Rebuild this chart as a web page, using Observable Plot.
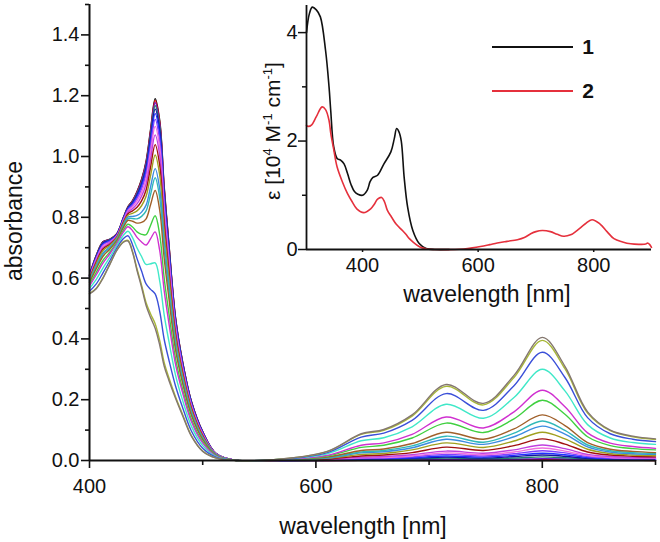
<!DOCTYPE html>
<html><head><meta charset="utf-8">
<script src="https://cdn.jsdelivr.net/npm/d3@7"></script>
<script src="https://cdn.jsdelivr.net/npm/@observablehq/plot@0.6"></script>
<style>
html,body{margin:0;padding:0;background:#fff;}
#wrap{position:relative;width:660px;height:542px;}
#wrap svg{position:absolute;left:0;top:0;}
</style></head><body><div id="wrap"></div>
<script>
// ---- main titration spectra (absorbance vs wavelength) ----
const wavelengths = [400,406,412,418,424,430,434,438,442,446,450,454,458,462,466,470,476,482,490,500,512,530,
  570,610,640,660,685,715,748,775,800,820,840,860,880,900];

const sBlack = [0.610,0.675,0.720,0.728,0.745,0.800,0.835,0.855,0.885,0.925,0.985,1.090,1.190,1.120,0.900,0.720,0.470,0.330,0.195,0.095,0.022,0,
  0,0,0,0,0,0,0,0,0,0,0,0,0,0];
const sRed = [0.610,0.674,0.719,0.727,0.745,0.799,0.834,0.854,0.883,0.922,0.981,1.085,1.184,1.114,0.895,0.716,0.468,0.329,0.194,0.094,0.022,0,
  0,0,0.001,0.001,0.001,0.002,0.001,0.002,0.003,0.002,0.001,0.001,0.001,0];
const sPurple = [0.609,0.673,0.718,0.727,0.744,0.799,0.833,0.852,0.881,0.919,0.977,1.079,1.177,1.107,0.890,0.712,0.465,0.327,0.193,0.094,0.022,0,
  0,0,0.001,0.002,0.002,0.004,0.003,0.004,0.006,0.005,0.002,0.002,0.001,0.001];
const sTealGreen = [0.608,0.672,0.716,0.726,0.743,0.798,0.832,0.850,0.877,0.914,0.971,1.071,1.167,1.098,0.882,0.706,0.462,0.325,0.192,0.093,0.022,0,
  0,0.001,0.003,0.003,0.005,0.008,0.006,0.008,0.012,0.009,0.005,0.003,0.002,0.002];
const sNavy = [0.607,0.670,0.715,0.724,0.743,0.796,0.830,0.847,0.873,0.909,0.964,1.062,1.156,1.087,0.873,0.700,0.458,0.322,0.190,0.092,0.021,0,
  0,0.001,0.004,0.005,0.007,0.011,0.008,0.013,0.018,0.014,0.007,0.005,0.004,0.003];
const sBlue2 = [0.606,0.668,0.712,0.723,0.741,0.795,0.828,0.844,0.868,0.902,0.954,1.050,1.141,1.072,0.862,0.690,0.453,0.318,0.188,0.091,0.021,0,
  0,0.002,0.005,0.006,0.009,0.015,0.011,0.017,0.024,0.019,0.010,0.006,0.005,0.004];
const sViolet = [0.604,0.665,0.709,0.721,0.740,0.793,0.825,0.840,0.862,0.893,0.942,1.034,1.122,1.053,0.847,0.679,0.446,0.314,0.185,0.089,0.021,0,
  0,0.002,0.007,0.008,0.012,0.020,0.015,0.022,0.032,0.025,0.013,0.008,0.006,0.006];
const sPink = [0.603,0.662,0.706,0.718,0.738,0.790,0.821,0.835,0.854,0.882,0.928,1.016,1.099,1.031,0.829,0.665,0.438,0.308,0.181,0.087,0.020,0,
  0.001,0.003,0.009,0.010,0.015,0.025,0.019,0.028,0.041,0.031,0.016,0.010,0.008,0.007];
const sOrchid = [0.600,0.658,0.701,0.715,0.736,0.787,0.817,0.828,0.844,0.869,0.910,0.993,1.071,1.004,0.807,0.649,0.428,0.302,0.177,0.085,0.020,0,
  0.001,0.004,0.011,0.013,0.019,0.031,0.024,0.035,0.051,0.039,0.020,0.013,0.010,0.009];
const sWine = [0.598,0.653,0.696,0.711,0.734,0.784,0.812,0.821,0.833,0.854,0.890,0.966,1.039,0.972,0.782,0.629,0.417,0.294,0.172,0.082,0.019,0,
  0.001,0.005,0.015,0.018,0.026,0.044,0.033,0.049,0.071,0.054,0.028,0.018,0.014,0.012];
const sOlive = [0.595,0.648,0.691,0.708,0.732,0.780,0.807,0.813,0.821,0.838,0.869,0.938,1.005,0.939,0.755,0.609,0.405,0.286,0.167,0.079,0.019,0,
  0.001,0.007,0.020,0.023,0.035,0.058,0.043,0.064,0.093,0.071,0.037,0.023,0.018,0.016];
const sSteel = [0.591,0.641,0.683,0.703,0.728,0.775,0.801,0.803,0.806,0.817,0.840,0.901,0.960,0.894,0.720,0.581,0.389,0.275,0.160,0.075,0.018,0,
  0.001,0.008,0.025,0.029,0.042,0.070,0.053,0.078,0.113,0.087,0.045,0.028,0.022,0.020];
const sTeal = [0.589,0.637,0.679,0.699,0.726,0.772,0.796,0.796,0.795,0.803,0.821,0.876,0.930,0.865,0.696,0.563,0.379,0.268,0.155,0.073,0.017,0,
  0.002,0.010,0.028,0.033,0.048,0.080,0.060,0.090,0.130,0.099,0.051,0.032,0.026,0.023];
const sBrown = [0.585,0.631,0.672,0.695,0.723,0.767,0.790,0.787,0.781,0.783,0.795,0.842,0.888,0.824,0.664,0.538,0.364,0.258,0.149,0.069,0.016,0,
  0.002,0.011,0.033,0.038,0.056,0.093,0.070,0.104,0.150,0.115,0.059,0.037,0.030,0.026];
const sGreen = [0.578,0.619,0.659,0.686,0.717,0.758,0.777,0.768,0.752,0.744,0.743,0.774,0.805,0.743,0.599,0.488,0.335,0.238,0.136,0.062,0.015,0,
  0.002,0.015,0.043,0.050,0.074,0.123,0.092,0.137,0.198,0.152,0.078,0.049,0.039,0.035];
const sMagenta = [0.574,0.611,0.650,0.680,0.713,0.752,0.769,0.756,0.734,0.719,0.709,0.730,0.752,0.691,0.558,0.456,0.316,0.226,0.128,0.057,0.014,0,
  0.003,0.017,0.050,0.058,0.086,0.143,0.107,0.160,0.231,0.177,0.091,0.057,0.046,0.040];
const sAqua = [0.566,0.596,0.634,0.669,0.706,0.741,0.754,0.733,0.699,0.671,0.645,0.647,0.650,0.591,0.478,0.395,0.281,0.201,0.113,0.049,0.012,0,
  0.004,0.022,0.065,0.075,0.111,0.185,0.139,0.207,0.300,0.229,0.118,0.074,0.059,0.053];
const sBlue = [0.557,0.581,0.618,0.657,0.698,0.730,0.739,0.710,0.664,0.623,0.581,0.563,0.548,0.491,0.398,0.333,0.245,0.177,0.097,0.040,0.010,0,
  0.004,0.026,0.077,0.090,0.132,0.220,0.165,0.246,0.356,0.273,0.141,0.088,0.070,0.062];
const sYellow = [0.549,0.567,0.602,0.647,0.691,0.720,0.724,0.688,0.630,0.577,0.519,0.482,0.450,0.395,0.322,0.274,0.210,0.154,0.082,0.031,0.008,0,
  0.005,0.029,0.086,0.099,0.146,0.244,0.183,0.273,0.395,0.302,0.156,0.098,0.078,0.069];
const sGray = [0.548,0.565,0.600,0.645,0.690,0.718,0.722,0.685,0.625,0.570,0.510,0.470,0.435,0.380,0.310,0.265,0.205,0.150,0.080,0.030,0.008,0,
  0.005,0.030,0.088,0.102,0.150,0.250,0.188,0.280,0.405,0.310,0.160,0.100,0.080,0.071];

const spectra = [sBlack,sRed,sPurple,sTealGreen,sNavy,sBlue2,sViolet,sPink,sOrchid,sWine,sOlive,sSteel,sTeal,sBrown,sGreen,sMagenta,sAqua,sBlue,sYellow,sGray];
const spectrumColors = ["#151515","#e01010","#7010c8","#208070","#1414a0","#2030ff","#8040ff","#f070e0","#c040e0","#a01010","#a0a020","#3c8ce0","#30b8b8","#a0602a","#40d040","#d030d0","#40e8c8","#3a4fd8","#a8b838","#84776f"];

const absTicks = [0,0.2,0.4,0.6,0.8,1.0,1.2,1.4];
const absMinor = [0.1,0.3,0.5,0.7,0.9,1.1,1.3,1.5];
const wlTicks = [400,600,800];
const wlMinor = [500,700,900];

// ---- inset: molar absorptivity of 1 and 2 ----
const wl1 = [303,308,313,320,327,336,342,345,350,356,362,368,374,380,386,392,400,408,413,418,426,437,449,455,459,463,467,472,478,487,498,510,525,550];
const eps1 = [4.00,4.35,4.47,4.42,4.29,3.67,3.00,2.55,1.90,1.68,1.65,1.58,1.40,1.20,1.07,1.02,1.00,1.09,1.25,1.33,1.37,1.58,1.80,2.05,2.23,2.17,2.00,1.33,0.78,0.35,0.11,0.02,0.0,0.0];
const wl2 = [303,306,312,320,330,336,342,345,350,356,365,374,382,390,402,414,420,426,433,438,443,450,458,469,475,481,488,495,503,512,530,560,575,590,604,620,633,650,668,680,691,700,711,725,737,748,760,771,785,797,811,823,835,850,864,878,890,893,897,900];
const eps2 = [2.29,2.27,2.30,2.45,2.63,2.58,2.38,2.14,1.85,1.52,1.25,1.03,0.88,0.75,0.68,0.75,0.83,0.93,0.96,0.88,0.72,0.60,0.47,0.35,0.28,0.20,0.13,0.074,0.03,0.01,0.0,0.0,0.01,0.03,0.055,0.09,0.12,0.15,0.18,0.22,0.29,0.33,0.35,0.33,0.28,0.245,0.27,0.35,0.47,0.55,0.47,0.33,0.20,0.14,0.105,0.095,0.10,0.12,0.09,0.04];
const epsTicks = [0,2,4];
const epsMinor = [1,3];
const insetTicks = [400,600,800];
const seriesNames = ["1","2"];
const seriesColors = ["#111111","#e5303c"];

const FONT = "'Liberation Sans', Arial, Helvetica, sans-serif";
const wrap = document.getElementById("wrap");

const rows = [];
spectra.forEach((s, k) => s.forEach((a, i) => rows.push({wl: wavelengths[i], a, k})));

const main = Plot.plot({
  width: 660, height: 542,
  marginLeft: 89, marginRight: 5, marginTop: 4, marginBottom: 82,
  style: {fontFamily: FONT, background: "transparent", color: "#111", overflow: "visible"},
  x: {domain: [400, 900]},
  y: {domain: [0, 1.5]},
  color: {type: "identity"},
  marks: [
    Plot.line(rows, {x: "wl", y: "a", z: "k", stroke: d => spectrumColors[d.k], strokeWidth: 1.4, curve: "catmull-rom"}),
    Plot.ruleX([400], {stroke: "#111", strokeWidth: 2}),
    Plot.ruleY([0], {stroke: "#111", strokeWidth: 2}),
    Plot.axisY({ticks: absTicks, tickSize: 8, tickPadding: 2, tickFormat: d3.format(".1f"), fontSize: 20, label: null, strokeWidth: 1.6}),
    Plot.axisY({ticks: absMinor, tickSize: 4, tickFormat: () => "", label: null, strokeWidth: 1.6}),
    Plot.axisX({ticks: wlTicks, tickSize: 8, tickPadding: 10, tickFormat: d3.format("d"), fontSize: 20, label: null, strokeWidth: 1.6}),
    Plot.axisX({ticks: wlMinor, tickSize: 5, tickFormat: () => "", label: null, strokeWidth: 1.6})
  ]
});
wrap.appendChild(main);
const ms = d3.select(main);
ms.append("text").attr("x", 363).attr("y", 534).attr("text-anchor", "middle")
  .attr("font-size", 23).attr("font-family", FONT).attr("fill", "#111").text("wavelength [nm]");
ms.append("text").attr("transform", "translate(22,221) rotate(-90)").attr("text-anchor", "middle")
  .attr("font-size", 23).attr("font-family", FONT).attr("fill", "#111").text("absorbance");

const r1 = wl1.map((w, i) => ({wl: w, e: eps1[i]}));
const r2 = wl2.map((w, i) => ({wl: w, e: eps2[i]}));

const inset = Plot.plot({
  width: 660, height: 310,
  marginLeft: 306, marginRight: 9, marginTop: 5, marginBottom: 61,
  style: {fontFamily: FONT, background: "transparent", color: "#111", overflow: "visible"},
  x: {domain: [303, 900]},
  y: {domain: [0, 4.5]},
  marks: [
    Plot.line(r1, {x: "wl", y: "e", stroke: seriesColors[0], strokeWidth: 1.6, curve: "catmull-rom"}),
    Plot.line(r2, {x: "wl", y: "e", stroke: seriesColors[1], strokeWidth: 1.6, curve: "catmull-rom"}),
    Plot.ruleX([303], {stroke: "#111", strokeWidth: 1.8}),
    Plot.ruleY([0], {stroke: "#111", strokeWidth: 1.8}),
    Plot.axisY({ticks: epsTicks, tickSize: 8, tickPadding: 1, tickFormat: d3.format("d"), fontSize: 20, label: null, strokeWidth: 1.5}),
    Plot.axisY({ticks: epsMinor, tickSize: 4, tickFormat: () => "", label: null, strokeWidth: 1.5}),
    Plot.axisX({ticks: insetTicks, tickSize: 3, tickPadding: 5, tickFormat: d3.format("d"), fontSize: 20, label: null, strokeWidth: 1.5})
  ]
});
inset.style.pointerEvents = "none";
wrap.appendChild(inset);
const is = d3.select(inset);
is.append("text").attr("x", 487).attr("y", 302).attr("text-anchor", "middle")
  .attr("font-size", 23).attr("font-family", FONT).attr("fill", "#111").text("wavelength [nm]");
const yl = is.append("text").attr("transform", "translate(280,131) rotate(-90)").attr("text-anchor", "middle")
  .attr("font-size", 21).attr("font-family", FONT).attr("fill", "#111");
const NB = "\u00A0";
yl.append("tspan").text("ε" + NB + "[10");
yl.append("tspan").attr("font-size", 13).attr("dy", -8).text("4");
yl.append("tspan").attr("dy", 8).text(NB + "M");
yl.append("tspan").attr("font-size", 13).attr("dy", -8).text("-1");
yl.append("tspan").attr("dy", 8).text(NB + "cm");
yl.append("tspan").attr("font-size", 13).attr("dy", -8).text("-1");
yl.append("tspan").attr("dy", 8).text("]");

// legend
const legY = [47, 91];
seriesNames.forEach((n, i) => {
  is.append("line").attr("x1", 492).attr("x2", 573).attr("y1", legY[i]).attr("y2", legY[i])
    .attr("stroke", seriesColors[i]).attr("stroke-width", 1.8);
  is.append("text").attr("x", 588).attr("y", legY[i] + 7).attr("font-size", 21).attr("font-weight", "bold")
    .attr("font-family", FONT).attr("fill", "#111").text(n);
});
</script></body></html>
